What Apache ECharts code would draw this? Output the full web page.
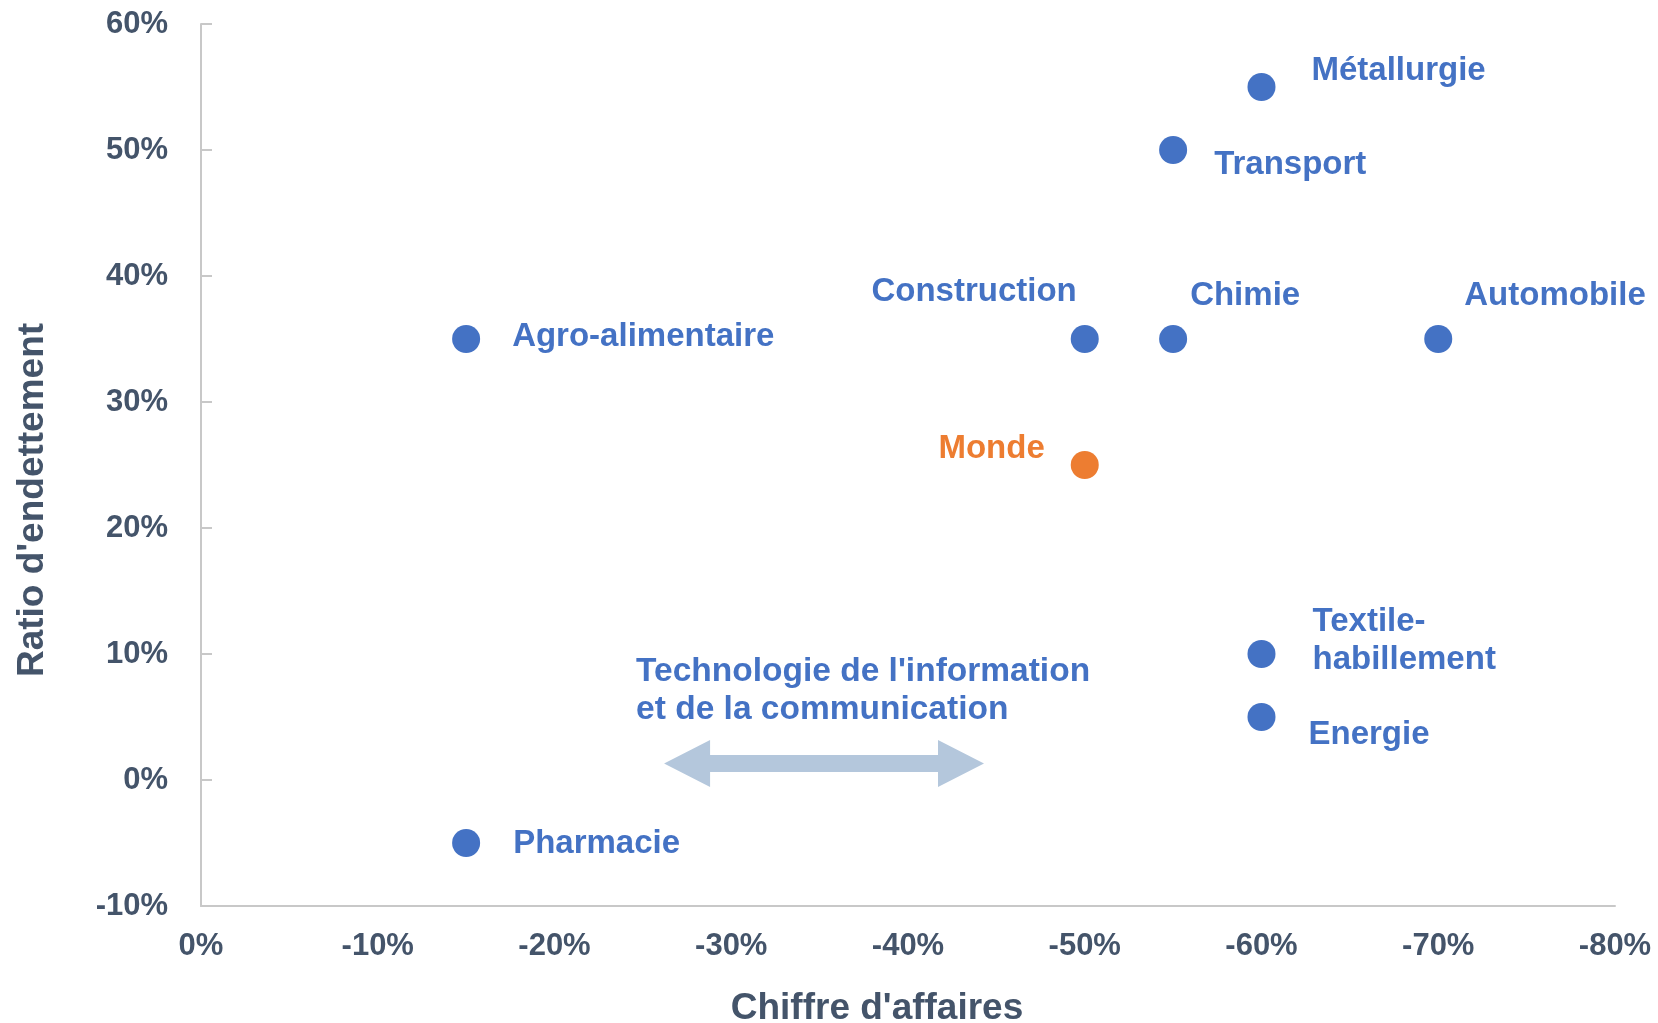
<!DOCTYPE html>
<html>
<head>
<meta charset="utf-8">
<script src="https://cdn.jsdelivr.net/npm/echarts@6/dist/echarts.min.js"></script>
<style>
  html, body { margin: 0; padding: 0; background: #fff; }
  #main { width: 1658px; height: 1023px; }
</style>
</head>
<body>
<div id="main"></div>
<script>
// secteurs et valeurs (en %)
var sectors = ['Agro-alimentaire', 'Pharmacie', 'Construction', 'Monde', 'Chimie', 'Automobile', 'Métallurgie', 'Transport', 'Textile-\nhabillement', 'Energie'];
var chiffreAffaires = [-15, -15, -50, -50, -55, -70, -60, -55, -60, -60];
var ratioEndettement = [35, -5, 35, 25, 35, 35, 55, 50, 10, 5];

// flèche TIC : de -26% à -44% environ, à hauteur ~1%
var ticRange = [-26.2, -44.3];
var ticLevel = [1.3];
var ticText = "Technologie de l'information\net de la communication";

var xTicks = [0, -10, -20, -30, -40, -50, -60, -70, -80];
var yTicks = [-10, 0, 10, 20, 30, 40, 50, 60];

var blue = '#4472c4';
var orange = '#ed7d31';
var axisText = '#44546a';
var font = '"Liberation Sans", Arial, sans-serif';

// décalage des étiquettes par rapport au point [dx, dy, align]
var labelPos = {
  'Agro-alimentaire': [46, -2, 'left'],
  'Pharmacie': [47, 1, 'left'],
  'Construction': [-8, -47, 'right'],
  'Monde': [-40, -16, 'right'],
  'Chimie': [17, -43, 'left'],
  'Automobile': [26, -43, 'left'],
  'Métallurgie': [50, -16, 'left'],
  'Transport': [41, 15, 'left'],
  'Textile-\nhabillement': [51, -13, 'left'],
  'Energie': [47, 18, 'left']
};

var symbolSize = 28;

var scatterData = sectors.map(function (name, i) {
  var p = labelPos[name];
  var col = name === 'Monde' ? orange : blue;
  return {
    name: name,
    value: [chiffreAffaires[i], ratioEndettement[i]],
    itemStyle: { color: col, opacity: 1 },
    label: {
      show: true,
      formatter: '{b}',
      position: [symbolSize / 2 + p[0], symbolSize / 2 + p[1]],
      align: p[2],
      verticalAlign: 'middle',
      color: col,
      fontSize: 33,
      fontWeight: 'bold',
      fontFamily: font,
      lineHeight: 38
    }
  };
});

var chart = echarts.init(document.getElementById('main'));

var option = {
  animation: false,
  backgroundColor: '#ffffff',
  grid: { left: 201, right: 43, top: 24, bottom: 117, containLabel: false, outerBoundsMode: 'none' },
  xAxis: {
    type: 'value',
    min: xTicks[xTicks.length - 1],
    max: xTicks[0],
    interval: 10,
    inverse: true,
    name: "Chiffre d'affaires",
    nameLocation: 'middle',
    nameGap: 84,
    nameTextStyle: {
      color: axisText, fontSize: 37, fontWeight: 'bold', fontFamily: font,
      padding: [0, 62, 0, 0]
    },
    axisLine: { show: true, onZero: false, lineStyle: { color: '#c8c8c8', width: 2 } },
    axisTick: { show: false },
    splitLine: { show: false },
    axisLabel: {
      margin: 25,
      color: axisText, fontSize: 31, fontWeight: 'bold', fontFamily: font,
      formatter: function (v) { return v + '%'; }
    }
  },
  yAxis: {
    type: 'value',
    min: yTicks[0],
    max: yTicks[yTicks.length - 1],
    interval: 10,
    name: "Ratio d'endettement",
    nameLocation: 'middle',
    nameGap: 150,
    nameTextStyle: {
      color: axisText, fontSize: 37, fontWeight: 'bold', fontFamily: font,
      padding: [0, 70, 0, 0]
    },
    axisLine: { show: true, onZero: false, lineStyle: { color: '#c8c8c8', width: 2 } },
    axisTick: { show: true, inside: true, length: 11, lineStyle: { color: '#c8c8c8', width: 2 } },
    splitLine: { show: false },
    axisLabel: {
      margin: 33,
      color: axisText, fontSize: 31, fontWeight: 'bold', fontFamily: font,
      formatter: function (v) { return v + '%'; }
    }
  },
  series: [
    {
      type: 'custom',
      silent: true,
      data: [[ticRange[0], ticRange[1], ticLevel[0]]],
      renderItem: function (params, api) {
        var a = api.coord([api.value(0), api.value(2)]);
        var b = api.coord([api.value(1), api.value(2)]);
        var x1 = Math.min(a[0], b[0]);
        var x2 = Math.max(a[0], b[0]);
        var y = a[1];
        var h = 8.5, H = 23.5, L = 46;
        return {
          type: 'group',
          children: [
            {
              type: 'polygon',
              shape: {
                points: [
                  [x1, y], [x1 + L, y - H], [x1 + L, y - h], [x2 - L, y - h], [x2 - L, y - H],
                  [x2, y], [x2 - L, y + H], [x2 - L, y + h], [x1 + L, y + h], [x1 + L, y + H]
                ]
              },
              style: { fill: '#b4c7dc' }
            },
            {
              type: 'text',
              style: {
                text: ticText,
                x: x1 - 28,
                y: y - 73,
                fill: blue,
                fontSize: 33.5,
                fontWeight: 'bold',
                fontFamily: font,
                lineHeight: 38,
                align: 'left',
                verticalAlign: 'middle'
              }
            }
          ]
        };
      }
    },
    {
      type: 'scatter',
      symbol: 'circle',
      symbolSize: symbolSize,
      data: scatterData
    }
  ]
};

chart.setOption(option);
</script>
</body>
</html>
